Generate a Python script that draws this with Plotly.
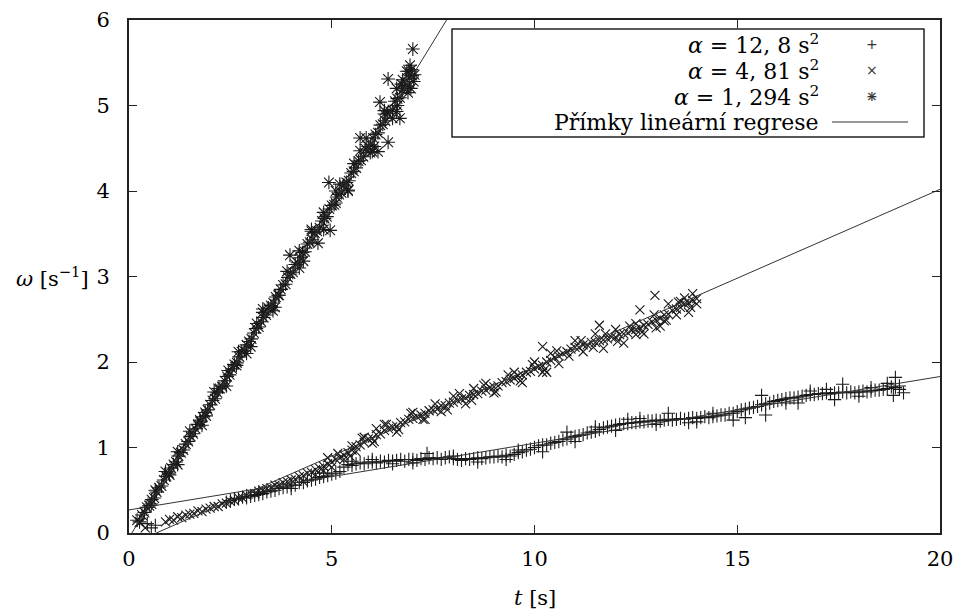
import plotly.graph_objects as go

# ---------------- data ----------------
# series alpha = 12,8 s^2  (+)
t1 = [0.45, 0.55, 0.65,
      2.5, 2.6, 2.7, 2.8, 2.9, 3.0, 3.1, 3.2, 3.3, 3.4, 3.5, 3.6, 3.7, 3.8, 3.9, 4.0, 4.1, 4.2, 4.3, 4.4,
      4.5, 4.6, 4.7, 4.8, 4.9, 5.0, 5.1, 5.2, 5.3, 5.4, 5.5, 5.6, 5.7, 5.8, 5.9, 6.0, 6.1, 6.2, 6.3, 6.4,
      6.5, 6.6, 6.7, 6.8, 6.9, 7.0, 7.1, 7.2, 7.3, 7.4, 7.5, 7.6, 7.7, 7.8, 7.9, 8.0, 8.1, 8.2, 8.3, 8.4,
      8.5, 8.6, 8.7, 8.8, 8.9, 9.0, 9.1, 9.2, 9.3, 9.4, 9.5, 9.6, 9.7, 9.8, 9.9, 10.0, 10.1, 10.2, 10.3,
      10.4, 10.5, 10.6, 10.7, 10.8, 10.9, 11.0, 11.1, 11.2, 11.3, 11.4, 11.5, 11.6, 11.7, 11.8, 11.9,
      12.0, 12.1, 12.2, 12.3, 12.4, 12.5, 12.6, 12.7, 12.8, 12.9, 13.0, 13.1, 13.2, 13.3, 13.4, 13.5,
      13.6, 13.7, 13.8, 13.9, 14.0, 14.1, 14.2, 14.3, 14.4, 14.5, 14.6, 14.7, 14.8, 14.9, 15.0, 15.1,
      15.2, 15.3, 15.4, 15.5, 15.6, 15.7, 15.8, 15.9, 16.0, 16.1, 16.2, 16.3, 16.4, 16.5, 16.6, 16.7,
      16.8, 16.9, 17.0, 17.1, 17.2, 17.3, 17.4, 17.5, 17.6, 17.7, 17.8, 17.9, 18.0, 18.1, 18.2, 18.3,
      18.4, 18.5, 18.6, 18.7, 18.8, 18.9, 19.0,
      2.4, 3.2, 4.0, 4.8, 5.5, 6.0, 6.5, 7.35, 7.0, 8.0, 8.6, 9.3, 9.6, 10.2, 10.8, 11.0, 11.5, 12.0,
      12.6, 13.3, 13.0, 13.8, 14.4, 14.9, 15.2, 15.6, 15.7, 16.2, 16.5, 16.8, 17.4, 17.6, 18.0, 18.3,
      18.85, 18.9, 19.1, 18.7, 19.0, 17.2, 14.0, 12.3]
w1 = [0.11, 0.06, 0.09,
      0.38, 0.40, 0.40, 0.42, 0.41, 0.43, 0.44, 0.45, 0.46, 0.48, 0.49, 0.50, 0.52, 0.53, 0.54, 0.56, 0.56,
      0.59, 0.59, 0.61, 0.62, 0.63, 0.65, 0.66, 0.67, 0.69, 0.70, 0.72, 0.77, 0.80, 0.79, 0.81, 0.82, 0.81,
      0.83, 0.83, 0.82, 0.84, 0.83, 0.85, 0.84, 0.85, 0.86, 0.84, 0.86, 0.86, 0.85, 0.87, 0.86, 0.88, 0.87,
      0.88, 0.86, 0.88, 0.89, 0.87, 0.86, 0.85, 0.87, 0.86, 0.87, 0.88, 0.87, 0.88, 0.89, 0.89, 0.90, 0.89,
      0.91, 0.90, 0.92, 0.94, 0.95, 0.97, 0.98, 1.00, 1.02, 1.03, 1.03, 1.05, 1.06, 1.07, 1.09, 1.10, 1.12,
      1.13, 1.14, 1.15, 1.17, 1.18, 1.19, 1.21, 1.23, 1.24, 1.25, 1.26, 1.27, 1.28, 1.28, 1.29, 1.29, 1.30,
      1.30, 1.31, 1.31, 1.32, 1.31, 1.32, 1.33, 1.32, 1.33, 1.34, 1.33, 1.34, 1.35, 1.34, 1.35, 1.36, 1.35,
      1.36, 1.37, 1.38, 1.38, 1.40, 1.40, 1.42, 1.44, 1.45, 1.46, 1.47, 1.48, 1.50, 1.51, 1.52, 1.54, 1.55,
      1.56, 1.57, 1.58, 1.58, 1.59, 1.60, 1.61, 1.62, 1.62, 1.63, 1.63, 1.64, 1.63, 1.64, 1.64, 1.65, 1.64,
      1.65, 1.64, 1.65, 1.66, 1.65, 1.66, 1.67, 1.67, 1.68, 1.69, 1.71, 1.70, 1.72,
      0.36, 0.48, 0.52, 0.70, 0.84, 0.86, 0.81, 0.93, 0.82, 0.90, 0.83, 0.86, 0.97, 0.95, 1.18, 1.07, 1.24,
      1.20, 1.34, 1.40, 1.27, 1.29, 1.40, 1.32, 1.35, 1.61, 1.38, 1.52, 1.52, 1.66, 1.56, 1.74, 1.60, 1.70,
      1.61, 1.82, 1.64, 1.75, 1.68, 1.68, 1.30, 1.33]

# series alpha = 4,81 s^2  (x)
t2 = [0.27, 0.40,
      0.9, 1.0, 1.1, 1.2, 1.3, 1.4, 1.5, 1.6, 1.7, 1.8, 1.9, 2.0, 2.1, 2.2, 2.3, 2.4, 2.5, 2.6, 2.7, 2.8,
      2.9, 3.0, 3.1, 3.2, 3.3, 3.4, 3.5, 3.6, 3.7, 3.8, 3.9, 4.0, 4.1, 4.2, 4.3, 4.4, 4.5, 4.6, 4.7, 4.8,
      4.9, 5.0, 5.1, 5.2, 5.3, 5.4, 5.5, 5.6, 5.7, 5.8, 5.9, 6.0, 6.1, 6.2, 6.3, 6.4, 6.5, 6.6, 6.7, 6.8,
      6.9, 7.0, 7.1, 7.2, 7.3, 7.4, 7.5, 7.6, 7.7, 7.8, 7.9, 8.0, 8.1, 8.2, 8.3, 8.4, 8.5, 8.6, 8.7, 8.8,
      8.9, 9.0, 9.1, 9.2, 9.3, 9.4, 9.5, 9.6, 9.7, 9.8, 9.9, 10.0, 10.1, 10.2, 10.3, 10.4, 10.5, 10.6,
      10.7, 10.8, 10.9, 11.0, 11.1, 11.2, 11.3, 11.4, 11.5, 11.6, 11.7, 11.8, 11.9, 12.0, 12.1, 12.2,
      12.3, 12.4, 12.5, 12.6, 12.7, 12.8, 12.9, 13.0, 13.1, 13.2, 13.3, 13.4, 13.5, 13.6, 13.7, 13.8,
      13.9, 14.0,
      4.3, 4.6, 4.8, 5.0, 5.3, 5.5, 5.8, 6.0, 6.3, 6.6, 7.0, 7.3, 7.7, 8.0, 8.3, 8.8, 9.0, 9.5, 9.7,
      10.0, 10.2, 10.4, 10.6, 11.0, 11.2, 11.5, 11.7, 12.0, 12.2, 12.5, 12.7, 12.97, 13.1, 13.3, 13.5,
      13.7, 13.8, 13.9, 14.0, 13.6, 13.2, 6.1, 8.5, 5.6, 4.9, 10.2, 11.6, 12.6, 13.0, 12.5, 10.3,
      5.15, 5.45, 5.75, 6.05, 6.35, 6.65, 6.95, 7.25, 7.55, 7.85, 8.15, 8.45, 8.75, 9.05, 9.35, 9.65,
      9.95, 10.25, 10.55, 10.85, 11.15, 11.45, 11.75, 12.05, 12.35, 12.65, 12.95, 13.25, 13.55, 13.85]
w2 = [0.12, 0.06,
      0.13, 0.16, 0.15, 0.19, 0.18, 0.21, 0.22, 0.23, 0.26, 0.25, 0.28, 0.29, 0.31, 0.31, 0.34, 0.35, 0.37,
      0.38, 0.41, 0.41, 0.44, 0.46, 0.46, 0.49, 0.50, 0.52, 0.53, 0.56, 0.56, 0.59, 0.60, 0.62, 0.63, 0.66,
      0.67, 0.70, 0.71, 0.74, 0.76, 0.78, 0.81, 0.83, 0.86, 0.88, 0.91, 0.94, 0.97, 1.01, 1.03, 1.06, 1.10,
      1.11, 1.15, 1.16, 1.20, 1.22, 1.24, 1.25, 1.29, 1.30, 1.33, 1.34, 1.36, 1.38, 1.40, 1.43, 1.44, 1.45,
      1.49, 1.49, 1.52, 1.53, 1.55, 1.57, 1.58, 1.61, 1.62, 1.63, 1.66, 1.67, 1.70, 1.71, 1.72, 1.76, 1.77,
      1.79, 1.81, 1.84, 1.85, 1.88, 1.89, 1.92, 1.95, 1.96, 2.00, 2.02, 2.05, 2.07, 2.10, 2.12, 2.15, 2.17,
      2.17, 2.20, 2.20, 2.23, 2.23, 2.25, 2.26, 2.27, 2.29, 2.29, 2.32, 2.33, 2.34, 2.37, 2.38, 2.40, 2.43,
      2.44, 2.47, 2.49, 2.51, 2.55, 2.56, 2.60, 2.62, 2.64, 2.68, 2.69, 2.72, 2.74,
      0.60, 0.68, 0.73, 0.77, 0.86, 1.02, 1.12, 1.05, 1.27, 1.18, 1.41, 1.33, 1.42, 1.60, 1.51, 1.75, 1.64,
      1.88, 1.76, 2.00, 1.88, 2.10, 1.98, 2.25, 2.12, 2.33, 2.16, 2.38, 2.22, 2.45, 2.33, 2.78, 2.42, 2.68,
      2.55, 2.75, 2.58, 2.80, 2.68, 2.71, 2.48, 1.22, 1.69, 0.95, 0.88, 2.18, 2.43, 2.61, 2.40, 2.32, 1.88,
      0.93, 0.90, 1.11, 1.07, 1.27, 1.21, 1.40, 1.33, 1.51, 1.44, 1.63, 1.55, 1.73, 1.65, 1.85, 1.78,
      1.97, 1.91, 2.13, 2.07, 2.25, 2.17, 2.33, 2.24, 2.42, 2.35, 2.55, 2.49, 2.70, 2.64]

# series alpha = 1,294 s^2  (*)
t3 = [0.20, 0.26, 0.32, 0.38, 0.44, 0.50, 0.56, 0.62, 0.68, 0.74, 0.80, 0.86, 0.92, 0.98, 1.04, 1.10,
      1.16, 1.22, 1.28, 1.34, 1.40, 1.46, 1.52, 1.58, 1.64, 1.70, 1.76, 1.82, 1.88, 1.94, 2.00, 2.06,
      2.12, 2.18, 2.24, 2.30, 2.36, 2.42, 2.48, 2.54, 2.60, 2.66, 2.72, 2.78, 2.84, 2.90, 2.96, 3.02,
      3.08, 3.14, 3.20, 3.26, 3.32, 3.38, 3.44, 3.50, 3.56, 3.62, 3.68, 3.74, 3.80, 3.86, 3.92, 3.98,
      4.04, 4.10, 4.16, 4.22, 4.28, 4.34, 4.40, 4.46, 4.52, 4.58, 4.64, 4.70, 4.76, 4.82, 4.88, 4.94,
      5.00, 5.06, 5.12, 5.18, 5.24, 5.30, 5.36, 5.42, 5.48, 5.54, 5.60, 5.66, 5.72, 5.78, 5.84, 5.90,
      5.96, 6.02, 6.08, 6.14, 6.20, 6.26, 6.32, 6.38, 6.44, 6.50, 6.56, 6.62, 6.68, 6.74, 6.80, 6.86,
      6.92, 6.98, 7.04,
      3.97, 4.66, 4.96, 4.93, 5.70, 6.14, 6.19, 6.39, 6.39, 6.68, 6.93, 7.00, 6.95, 6.85, 6.75, 6.60,
      6.50, 5.95, 5.85, 5.40, 5.20, 4.50, 4.30, 3.55, 3.30, 2.90, 2.45, 1.90, 1.20, 0.55, 7.02, 6.97,
      6.88, 6.72, 6.62, 6.30, 6.05, 5.55, 5.10, 4.80, 4.20, 3.70, 3.15, 2.65, 2.20, 1.75, 1.00, 0.65,
      0.9, 1.2, 1.5, 1.8, 2.1, 2.4, 2.7, 3.0, 3.3, 3.6, 3.9, 4.2, 4.5, 4.8, 5.1, 5.4, 5.7, 6.0, 6.3,
      6.6, 6.9]
w3 = [0.15, 0.13, 0.21, 0.24, 0.30, 0.32, 0.39, 0.41, 0.48, 0.53, 0.55, 0.62, 0.66, 0.70, 0.76, 0.80,
      0.83, 0.90, 0.94, 0.97, 1.04, 1.07, 1.13, 1.16, 1.22, 1.27, 1.30, 1.36, 1.41, 1.44, 1.50, 1.55,
      1.57, 1.64, 1.69, 1.71, 1.78, 1.83, 1.85, 1.92, 1.97, 1.99, 2.06, 2.12, 2.13, 2.20, 2.24, 2.27,
      2.34, 2.39, 2.41, 2.47, 2.52, 2.55, 2.63, 2.66, 2.69, 2.76, 2.78, 2.85, 2.90, 2.91, 2.99, 3.03,
      3.05, 3.14, 3.16, 3.22, 3.28, 3.29, 3.38, 3.40, 3.43, 3.51, 3.53, 3.57, 3.65, 3.68, 3.70, 3.79,
      3.83, 3.84, 3.93, 3.96, 3.98, 4.07, 4.10, 4.12, 4.21, 4.23, 4.27, 4.35, 4.36, 4.40, 4.49, 4.52,
      4.54, 4.62, 4.66, 4.68, 4.77, 4.78, 4.82, 4.91, 4.93, 4.95, 5.05, 5.08, 5.09, 5.18, 5.22, 5.23,
      5.32, 5.35, 5.36,
      3.25, 3.39, 3.54, 4.10, 4.62, 4.46, 5.04, 4.57, 5.31, 4.85, 5.47, 5.66, 5.20, 5.40, 5.30, 5.20,
      4.85, 4.45, 4.62, 4.00, 4.08, 3.55, 3.18, 2.60, 2.62, 2.10, 1.90, 1.37, 0.95, 0.34, 5.28, 5.42,
      5.15, 5.25, 5.00, 4.90, 4.52, 4.32, 3.86, 3.75, 3.30, 2.78, 2.45, 1.96, 1.69, 1.32, 0.68, 0.50,
      0.72, 0.80, 1.19, 1.26, 1.65, 1.72, 2.12, 2.18, 2.58, 2.64, 3.06, 3.10, 3.53, 3.55, 4.00, 4.01,
      4.47, 4.46, 4.94, 4.93, 5.40]

# linear regression lines: omega = slope * t + intercept
fit_slopes = [0.078, 0.208, 0.773]
fit_intercepts = [0.27, -0.14, -0.054]
fit_t = [0, 20]

legend_labels = ["<i>α</i> = 12, 8 s<sup>2</sup>",
                 "<i>α</i> = 4, 81 s<sup>2</sup>",
                 "<i>α</i> = 1, 294 s<sup>2</sup>",
                 "Přímky lineární regrese"]

x_ticks = [0, 5, 10, 15, 20]
y_ticks = [0, 1, 2, 3, 4, 5, 6]

# ---------------- figure ----------------
FONT = "DejaVu Serif"
FS = 21
INK = "#1a1a1a"
fig = go.Figure()

marker_specs = [("cross-thin-open", 9.5), ("x-thin-open", 9), ("asterisk-open", 11.5)]
for (tt, ww), (sym, sz) in zip([(t1, w1), (t2, w2), (t3, w3)], marker_specs):
    fig.add_trace(go.Scatter(x=tt, y=ww, mode="markers", showlegend=False,
                             marker=dict(symbol=sym, size=sz, color=INK,
                                         line=dict(color=INK, width=1.1)),
                             hoverinfo="skip"))

for a, b in zip(fit_slopes, fit_intercepts):
    fig.add_trace(go.Scatter(x=fit_t, y=[a * t + b for t in fit_t], mode="lines",
                             showlegend=False, line=dict(color="#333333", width=1)))

axis_common = dict(showline=True, linecolor="#222222", linewidth=2, mirror="ticks",
                   ticks="inside", ticklen=8, tickwidth=1.3, tickcolor="#222222",
                   showgrid=False, zeroline=False, automargin=False,
                   tickfont=dict(family=FONT, size=FS, color="black"))

fig.update_xaxes(range=[0, 20], tickvals=x_ticks, ticklabelstandoff=6, **axis_common)
fig.update_yaxes(range=[0, 6], tickvals=y_ticks, ticklabelstandoff=13, **axis_common)

L, R, T, B = 129, 22, 20, 82
W, H = 962, 615
pw, ph = W - L - R, H - T - B

def px(x):
    return (x - L) / pw

def py(y):
    return (H - B - y) / ph

annotations = [
    dict(text="<i>t</i> [s]", x=0.5, y=py(598), xref="paper", yref="paper",
         showarrow=False, font=dict(family=FONT, size=FS, color="black"),
         xanchor="center", yanchor="middle"),
    dict(text="<i>ω</i> [s<sup>−1</sup>]", x=px(91), y=3, xref="paper", yref="y",
         showarrow=False, font=dict(family=FONT, size=FS, color="black"),
         xanchor="right", yanchor="middle"),
]

row_y = [44, 70, 96, 122]
for lab, ry in zip(legend_labels, row_y):
    annotations.append(dict(text=lab, x=px(821), y=py(ry), xref="paper", yref="paper",
                            showarrow=False, xanchor="right", yanchor="middle",
                            font=dict(family=FONT, size=22, color="black")))
# legend sample glyphs: "+", "x", and "*" drawn as "+" over "x"
for sym, ry in [("+", row_y[0]), ("×", row_y[1]), ("+", row_y[2]), ("×", row_y[2])]:
    annotations.append(dict(text=sym, x=px(872), y=py(ry), xref="paper", yref="paper",
                            showarrow=False, xanchor="center", yanchor="middle",
                            font=dict(family="DejaVu Sans", size=14, color="#333333")))

shapes = [
    dict(type="rect", xref="paper", yref="paper", x0=px(452), x1=px(924),
         y0=py(137), y1=py(29), line=dict(color="#222222", width=1.5)),
    dict(type="line", xref="paper", yref="paper", x0=px(832), x1=px(908),
         y0=py(122), y1=py(122), line=dict(color="#333333", width=1)),
]

fig.update_layout(width=W, height=H, margin=dict(l=L, r=R, t=T, b=B),
                  paper_bgcolor="white", plot_bgcolor="white",
                  annotations=annotations, shapes=shapes, showlegend=False)

fig.write_html("out.html", config={"displayModeBar": False},
               post_script="document.body.style.margin='0';document.body.style.padding='0';")
